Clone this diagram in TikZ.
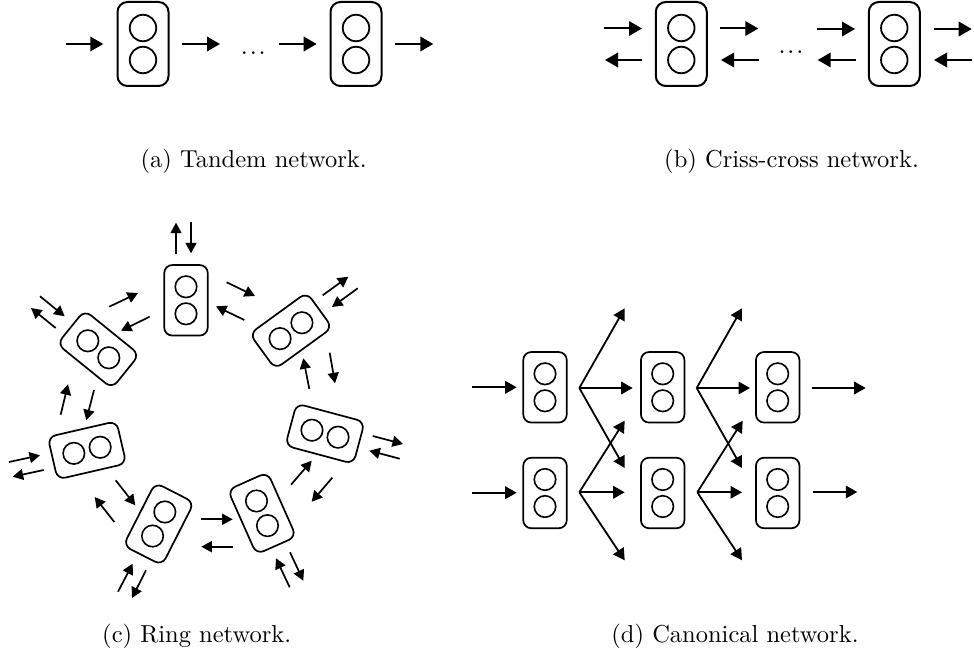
\documentclass[tikz,border=0pt]{standalone}
\usepackage{tikz}
\usetikzlibrary{arrows.meta,calc,positioning}
\tikzstyle{bigbox} = [rectangle, rounded corners=10pt, minimum width=51pt, minimum height=84pt, inner sep=0pt, line width=2pt, draw=black]
\tikzstyle{smallbox} = [rectangle, rounded corners=8pt, minimum width=43.5pt, minimum height=70.5pt, inner sep=0pt, line width=1.7pt, draw=black]
\tikzstyle{biglamp} = [circle, minimum size=26.5pt, inner sep=0pt, line width=1.8pt, draw=black]
\tikzstyle{smalllamp} = [circle, minimum size=21.5pt, inner sep=0pt, line width=1.6pt, draw=black]
\tikzstyle{bigarrow} = [line width=2pt,-{Triangle[length=13pt,width=14.5pt]}]
\tikzstyle{ringarrow} = [line width=1.7pt,-{Triangle[length=10.5pt,width=11pt]}]
\tikzstyle{fanarrow} = [line width=1.8pt,-{Triangle[length=11.5pt,width=12.5pt]}]
\tikzstyle{caption} = [anchor=base, inner sep=0pt, scale=2.45, font=\fontsize{10}{12}\selectfont]
\tikzstyle{gap} = [anchor=base, inner sep=0pt, font=\fontsize{18}{18}\selectfont\boldmath]
\newcommand{\station}[5]{%
\node (#1) [#4box, rotate=#3] at (#2) {};
\node (#1up) [#4lamp] at ($(#1)+(90+#3:#5pt)$) {};
\node (#1down) [#4lamp] at ($(#1)+(270+#3:#5pt)$) {};
}
\newcommand{\flow}[4]{%
\coordinate (#2a) at (#3);
\coordinate (#2b) at (#4);
\draw [#1arrow] (#2a) -- (#2b);
}
\begin{document}
\begin{tikzpicture}[x=1pt,y=1pt]
\useasboundingbox (0,0) rectangle (974,-655);
% tandem
\station{ta}{143,-44}{0}{big}{16}
\station{tb}{356,-44}{0}{big}{16}
\flow{big}{ta1}{65.7,-44}{103.3,-44}
\flow{big}{ta2}{182.3,-44}{220,-44}
\flow{big}{ta3}{279,-44}{316.7,-44}
\flow{big}{ta4}{395.3,-44}{433.3,-44}
\node (tadots) [gap] at (253.3,-54.5) {$\ldots$};
\node (tacap) [caption] at (253.7,-168) {(a) Tandem network.};
% criss-cross
\station{cc}{681.3,-44}{0}{big}{16}
\station{cd}{894.3,-44}{0}{big}{16}
\flow{big}{cc1}{603.7,-28.5}{642,-28.5}
\flow{big}{cc2}{642.3,-60}{605,-60}
\flow{big}{cc3}{720.3,-28.5}{758.3,-28.5}
\flow{big}{cc4}{759,-60}{721,-60}
\flow{big}{cc5}{817,-29}{855,-29}
\flow{big}{cc6}{855.7,-60}{817.7,-60}
\flow{big}{cc7}{933.7,-29}{971.7,-29}
\flow{big}{cc8}{972,-60}{934,-60}
\node (ccdots) [gap] at (791,-54) {$\ldots$};
\node (cccap) [caption] at (791.5,-168) {(b) Criss-cross network.};
% ring
\station{rt}{186,-300.3}{0}{small}{13.5}
\station{rb}{291,-330.7}{-54}{small}{13.5}
\station{rc}{325,-433.7}{-105}{small}{13.5}
\station{rd}{262,-513.3}{24}{small}{13.5}
\station{re}{158.7,-524}{-27}{small}{13.5}
\station{rf}{87,-450.3}{-77}{small}{13.5}
\station{rg}{98.3,-349.3}{51}{small}{13.5}
\flow{ring}{r1}{176,-253.7}{176,-222.7}
\flow{ring}{r2}{191,-222.3}{191,-253.3}
\flow{ring}{r3}{226.7,-282.3}{255,-296}
\flow{ring}{r4}{244.3,-320}{216,-306.3}
\flow{ring}{r5}{322.7,-295.3}{348.3,-276.7}
\flow{ring}{r6}{357.7,-288.3}{332,-307}
\flow{ring}{r7}{329.7,-352.7}{335,-383.3}
\flow{ring}{r8}{309.3,-389}{303.3,-358.3}
\flow{ring}{r9}{372.7,-436}{403,-444}
\flow{ring}{r10}{399.7,-458.7}{369.3,-450.7}
\flow{ring}{r11}{332.3,-477.7}{311.7,-501.7}
\flow{ring}{r12}{291,-484.7}{311.7,-460.7}
\flow{ring}{r13}{290,-552.3}{303.3,-580.7}
\flow{ring}{r14}{289.7,-587.3}{276,-558.3}
\flow{ring}{r15}{201.3,-519.3}{232.7,-519.3}
\flow{ring}{r16}{232.7,-546.7}{201.3,-546.7}
\flow{ring}{r17}{146,-570.3}{132,-598}
\flow{ring}{r18}{118,-591.7}{132.7,-563.7}
\flow{ring}{r19}{115.7,-480.3}{135.3,-505.3}
\flow{ring}{r20}{114.3,-522}{94.7,-497}
\flow{ring}{r21}{9,-462}{40,-455.3}
\flow{ring}{r22}{43.7,-470}{12.7,-476.7}
\flow{ring}{r23}{60.7,-414.7}{68,-384.3}
\flow{ring}{r24}{94,-390}{86.3,-420.3}
\flow{ring}{r25}{40,-296.3}{64.7,-316.3}
\flow{ring}{r26}{55.7,-328}{31,-308}
\flow{ring}{r27}{109.3,-306.7}{138,-293}
\flow{ring}{r28}{149.7,-316.7}{121,-330.7}
\node (rcap) [caption] at (196.7,-642) {(c) Ring network.};
% canonical
\station{ka}{545,-387.3}{0}{small}{13.5}
\station{kb}{662.7,-387.3}{0}{small}{13.5}
\station{kc}{777.7,-387.3}{0}{small}{13.5}
\station{kd}{545,-493}{0}{small}{13.5}
\station{ke}{662.7,-493}{0}{small}{13.5}
\station{kf}{777.7,-493}{0}{small}{13.5}
\flow{fan}{k1}{471.7,-387.3}{516.7,-387.3}
\flow{fan}{k2}{471.7,-492.7}{516.7,-492.7}
\flow{fan}{k3}{812,-388}{865.7,-388}
\flow{fan}{k4}{812.7,-492}{857.3,-492}
\coordinate (fa) at (579.3,-388);
\coordinate (fb) at (579.3,-492.3);
\coordinate (fc) at (696.7,-388);
\coordinate (fd) at (697.3,-492.3);
\coordinate (fa1) at (624.7,-308.3);
\coordinate (fa2) at (632.7,-388);
\coordinate (fa3) at (624.7,-468);
\coordinate (fb1) at (624.7,-420.7);
\coordinate (fb2) at (624.7,-492.3);
\coordinate (fb3) at (624.7,-560.3);
\coordinate (fc1) at (742,-308.3);
\coordinate (fc2) at (750,-388);
\coordinate (fc3) at (742,-468);
\coordinate (fd1) at (742.7,-420.7);
\coordinate (fd2) at (742,-492.3);
\coordinate (fd3) at (742,-560.3);
\draw [fanarrow] (fa) -- (fa1);
\draw [fanarrow] (fa) -- (fa2);
\draw [fanarrow] (fa) -- (fa3);
\draw [fanarrow] (fb) -- (fb1);
\draw [fanarrow] (fb) -- (fb2);
\draw [fanarrow] (fb) -- (fb3);
\draw [fanarrow] (fc) -- (fc1);
\draw [fanarrow] (fc) -- (fc2);
\draw [fanarrow] (fc) -- (fc3);
\draw [fanarrow] (fd) -- (fd1);
\draw [fanarrow] (fd) -- (fd2);
\draw [fanarrow] (fd) -- (fd3);
\node (kcap) [caption] at (735,-642) {(d) Canonical network.};
\end{tikzpicture}
\end{document}
